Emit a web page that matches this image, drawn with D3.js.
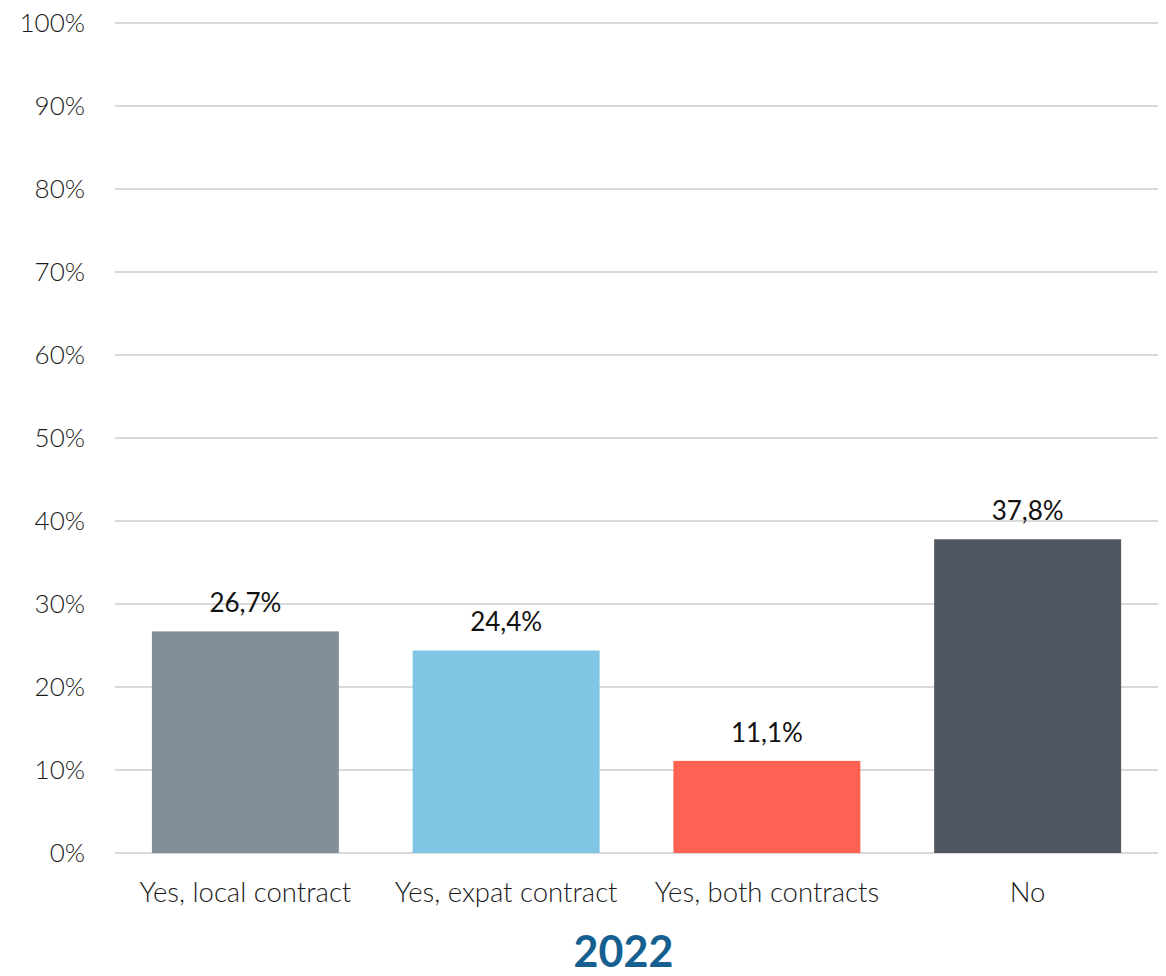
<!DOCTYPE html>
<html>
<head>
<meta charset="utf-8">
<script src="https://cdn.jsdelivr.net/npm/d3@7"></script>
<style>
  html, body { margin: 0; padding: 0; background: #fff; }
  svg { display: block; }
</style>
</head>
<body>
<svg id="chart" width="1166" height="976"></svg>
<script>
// Survey answers and their shares (percent)
const categories = ["Yes, local contract", "Yes, expat contract", "Yes, both contracts", "No"];
const values = [26.7, 24.4, 11.1, 37.8];
const barColors = ["#838e99", "#80c5e4", "#ff6152", "#4e5760"];
const yTicks = [0, 10, 20, 30, 40, 50, 60, 70, 80, 90, 100];
const title = "2022";

const svg = d3.select("#chart");
const margin = { top: 23, right: 8, bottom: 123, left: 115 };
const width = 1166, height = 976;
const innerW = width - margin.left - margin.right;
const innerH = height - margin.top - margin.bottom;

const x = d3.scaleBand().domain(categories).range([margin.left, margin.left + innerW])
  .paddingInner(0.283).paddingOuter(0.1415);
const y = d3.scaleLinear().domain([0, 100]).range([margin.top + innerH, margin.top]);

// Horizontal gridlines
svg.append("g")
  .selectAll("line")
  .data(yTicks)
  .join("line")
  .attr("x1", margin.left)
  .attr("x2", margin.left + innerW)
  .attr("y1", d => y(d))
  .attr("y2", d => y(d))
  .attr("stroke", "#d9d9d9")
  .attr("stroke-width", 2);

// Y axis labels
const yAxis = d3.axisLeft(y).tickValues(yTicks).tickFormat(d => d + "%").tickSize(0).tickPadding(30);
const gy = svg.append("g").attr("transform", `translate(${margin.left},0)`).call(yAxis);
gy.select(".domain").remove();
gy.selectAll("text")
  .attr("font-family", "Lato, sans-serif")
  .attr("font-weight", 300)
  .attr("font-size", 26)
  .attr("fill", "#1a1a1a");

// Bars
svg.append("g")
  .selectAll("rect")
  .data(values)
  .join("rect")
  .attr("x", (d, i) => x(categories[i]))
  .attr("y", d => y(d))
  .attr("width", x.bandwidth())
  .attr("height", d => y(0) - y(d))
  .attr("fill", (d, i) => barColors[i]);

// Value labels
svg.append("g")
  .selectAll("text")
  .data(values)
  .join("text")
  .attr("x", (d, i) => x(categories[i]) + x.bandwidth() / 2)
  .attr("y", d => y(d) - 19)
  .attr("text-anchor", "middle")
  .attr("font-family", "Lato, sans-serif")
  .attr("font-size", 26)
  .attr("fill", "#111")
  .text(d => d3.format(".1f")(d).replace(".", ",") + "%");

// Category labels
const xAxis = d3.axisBottom(x).tickSize(0).tickPadding(29);
const gx = svg.append("g").attr("transform", `translate(0,${y(0)})`).call(xAxis);
gx.select(".domain").remove();
gx.selectAll("text")
  .attr("font-family", "Lato, sans-serif")
  .attr("font-weight", 300)
  .attr("font-size", 27.5)
  .attr("fill", "#1a1a1a");

// Title
svg.append("text")
  .attr("x", margin.left + innerW / 2 - 13)
  .attr("y", 967)
  .attr("text-anchor", "middle")
  .attr("font-family", "Lato, sans-serif")
  .attr("font-weight", 700)
  .attr("font-size", 43)
  .attr("fill", "#155f91")
  .text(title);
</script>
</body>
</html>
